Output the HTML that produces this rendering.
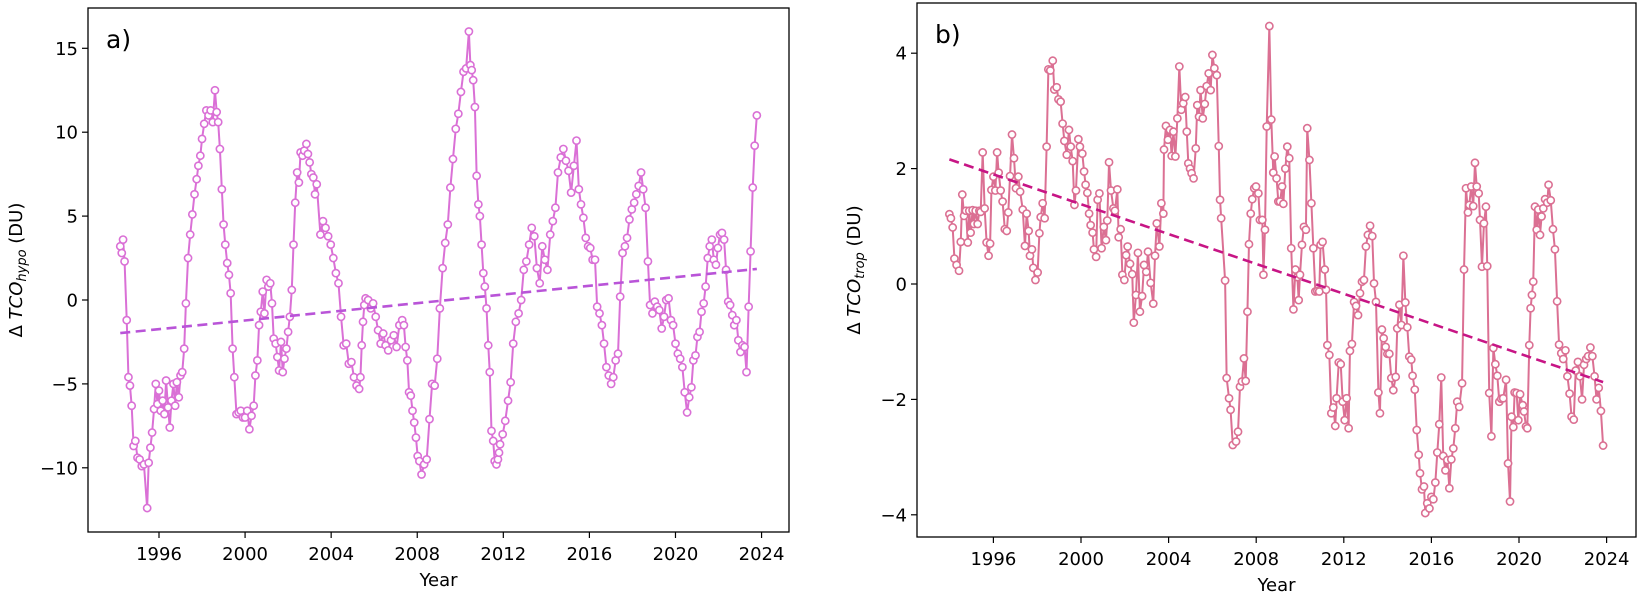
<!DOCTYPE html>
<html>
<head>
<meta charset="utf-8">
<style>
  html,body{margin:0;padding:0;background:#fff;}
  svg{display:block;font-family:"DejaVu Sans","Liberation Sans",sans-serif;}
</style>
</head>
<body>
<svg id="chart" width="1638" height="597" viewBox="0 0 1638 597" xmlns="http://www.w3.org/2000/svg">
  <g id="panelA"></g>
  <g id="panelB"></g>
</svg>
<script>
// ---------- shared tick data ----------
const xTickYears = [1996, 2000, 2004, 2008, 2012, 2016, 2020, 2024];
const yTicksA = [-10, -5, 0, 5, 10, 15];
const yTicksB = [-4, -2, 0, 2, 4];

// ---------- panel a: hypo series ----------
const yearsA = [
1994.20,1994.27,1994.33,1994.40,1994.50,1994.58,1994.65,1994.73,1994.82,1994.90,
1995.00,1995.10,1995.20,1995.30,1995.45,1995.52,1995.60,1995.68,1995.77,1995.85,
1995.93,1996.00,1996.08,1996.17,1996.25,1996.33,1996.42,1996.50,1996.58,1996.67,
1996.75,1996.83,1996.92,1997.00,1997.08,1997.17,1997.25,1997.35,1997.45,1997.55,
1997.65,1997.75,1997.83,1997.92,1998.00,1998.10,1998.20,1998.30,1998.40,1998.50,
1998.60,1998.68,1998.75,1998.83,1998.92,1999.00,1999.08,1999.17,1999.25,1999.33,
1999.42,1999.50,1999.60,1999.70,1999.80,1999.90,2000.00,2000.10,2000.20,2000.30,
2000.40,2000.48,2000.57,2000.65,2000.73,2000.82,2000.90,2001.00,2001.08,2001.17,
2001.25,2001.33,2001.42,2001.50,2001.58,2001.67,2001.75,2001.83,2001.92,2002.00,
2002.08,2002.17,2002.25,2002.33,2002.42,2002.50,2002.58,2002.67,2002.75,2002.85,
2002.92,2003.00,2003.08,2003.17,2003.25,2003.33,
2003.50,2003.62,2003.74,2003.86,2003.98,2004.10,2004.22,2004.34,2004.46,2004.58,
2004.70,2004.82,2004.94,2005.06,2005.18,2005.30,2005.36,2005.42,2005.48,2005.54,
2005.60,2005.72,2005.84,2005.95,2006.07,2006.18,2006.30,2006.42,2006.53,2006.65,
2006.78,2006.91,2007.04,2007.17,2007.30,2007.38,2007.46,2007.54,2007.62,2007.70,
2007.78,2007.86,2007.94,2008.02,2008.10,2008.20,
2008.32,2008.44,2008.57,2008.69,2008.81,2008.93,2009.05,2009.18,2009.30,2009.42,
2009.54,2009.66,2009.79,2009.91,2010.03,2010.15,2010.27,2010.40,
2010.47,2010.53,2010.60,2010.68,2010.76,2010.84,2010.91,2010.99,2011.07,2011.14,
2011.22,2011.30,2011.37,2011.45,2011.53,2011.60,2011.68,2011.75,2011.80,
2011.85,2011.97,2012.09,2012.22,2012.34,2012.46,2012.58,2012.71,2012.83,2012.95,
2013.07,2013.20,2013.32,2013.44,2013.56,2013.69,2013.81,2013.93,2014.05,2014.18,
2014.30,2014.42,2014.54,2014.67,2014.79,2014.91,2015.03,2015.15,2015.28,2015.40,
2015.51,2015.61,2015.72,2015.83,2015.94,2016.04,2016.15,2016.26,2016.36,2016.47,
2016.58,2016.68,2016.79,2016.90,2017.01,2017.11,2017.22,2017.33,2017.43,2017.54,
2017.65,2017.75,2017.86,2017.97,2018.08,2018.18,2018.29,2018.40,2018.50,2018.61,
2018.72,2018.82,2018.93,2019.04,2019.15,2019.25,2019.36,2019.47,2019.57,2019.68,
2019.79,2019.89,2020.00,2020.11,2020.22,2020.32,2020.43,2020.54,
2020.64,2020.74,2020.83,2020.93,2021.02,2021.12,2021.21,2021.31,2021.40,2021.50,
2021.59,2021.69,2021.78,2021.88,2021.97,2022.07,2022.16,2022.26,2022.35,2022.45,
2022.54,2022.64,2022.73,2022.83,2022.92,2023.02,2023.11,2023.21,2023.30,2023.40,
2023.49,2023.59,2023.68,2023.78
];
const valuesA = [
3.2,2.8,3.6,2.3,-1.2,-4.6,-5.1,-6.3,-8.7,-8.4,
-9.4,-9.5,-9.9,-9.8,-12.4,-9.7,-8.8,-7.9,-6.5,-5.0,
-6.2,-5.4,-6.6,-6.0,-6.8,-4.8,-6.4,-7.6,-6.0,-5.0,
-6.3,-4.9,-5.8,-4.5,-4.3,-2.9,-0.2,2.5,3.9,5.1,
6.3,7.2,8.0,8.6,9.6,10.5,11.3,11.0,11.3,10.6,
12.5,11.2,10.6,9.0,6.6,4.5,3.3,2.2,1.5,0.4,
-2.9,-4.6,-6.8,-6.7,-6.6,-7.0,-7.0,-6.6,-7.7,-6.9,
-6.3,-4.5,-3.6,-1.5,-0.7,0.5,-0.8,1.2,0.8,1.0,
-0.2,-2.3,-2.6,-3.4,-4.2,-2.5,-4.3,-3.5,-2.9,-1.9,
-1.0,0.6,3.3,5.8,7.6,7.0,8.8,8.6,8.9,9.3,
8.7,8.2,7.5,7.3,6.3,6.9,
3.9,4.7,4.3,3.8,3.3,2.5,1.6,1.0,-1.0,-2.7,
-2.6,-3.8,-3.7,-4.6,-5.1,-5.3,-4.6,-2.7,-1.3,-0.3,
0.1,0.0,-0.5,-0.2,-1.0,-1.8,-2.6,-2.0,-2.7,-3.0,
-2.4,-2.1,-2.8,-1.5,-1.2,-1.5,-2.8,-3.6,-5.5,-5.7,
-6.6,-7.3,-8.2,-9.3,-9.6,-10.4,
-9.8,-9.5,-7.1,-5.0,-5.1,-3.5,-0.5,1.9,3.4,4.5,
6.7,8.4,10.2,11.1,12.4,13.6,13.8,16.0,
14.0,13.7,13.1,11.5,7.4,5.7,5.0,3.3,1.6,0.8,
-0.5,-2.7,-4.3,-7.8,-8.4,-9.6,-9.8,-9.5,-9.1,
-8.6,-8.0,-7.2,-6.0,-4.9,-2.6,-1.3,-0.8,0.0,1.8,
2.3,3.3,4.3,3.8,1.9,1.0,3.2,2.4,1.8,3.9,
4.7,5.5,7.6,8.5,9.0,8.3,7.7,6.4,8.0,9.5,
6.6,5.7,4.9,3.7,3.2,3.1,2.4,2.4,-0.4,-0.8,
-1.5,-2.6,-4.0,-4.5,-5.0,-4.6,-3.6,-3.2,0.2,2.8,
3.2,3.7,4.8,5.4,5.8,6.3,6.8,7.6,6.6,5.5,
2.3,-0.3,-0.8,-0.1,-0.4,-0.6,-1.7,-1.0,0.0,0.1,
-1.2,-1.5,-2.6,-3.2,-3.5,-4.0,-5.5,-6.7,
-5.8,-5.2,-3.6,-3.3,-2.2,-1.9,-0.7,-0.2,0.8,2.5,
3.2,3.6,2.4,2.1,3.1,3.9,4.0,3.6,1.8,-0.1,
-0.3,-0.9,-1.5,-1.2,-2.4,-3.1,-2.7,-2.8,-4.3,-0.4,
2.9,6.7,9.2,11.0
];
const trendYearsA = [1994.2, 2023.78];
const trendValuesA = [-1.97, 1.85];

// ---------- panel b: trop series ----------
const yearsB = [
1993.99,1994.06,1994.14,1994.22,1994.32,1994.43,1994.51,1994.58,1994.66,1994.75,
1994.83,1994.90,1994.96,1995.05,1995.11,1995.19,1995.28,1995.36,1995.42,1995.51,
1995.60,1995.69,1995.78,1995.85,1995.91,1996.00,1996.09,1996.17,1996.24,1996.33,
1996.42,1996.52,1996.61,1996.68,1996.76,1996.85,1996.94,1997.03,1997.14,1997.22,
1997.34,1997.44,1997.52,1997.61,1997.67,1997.76,1997.82,1997.92,1998.02,1998.10,
1998.16,1998.25,1998.34,1998.43,1998.51,1998.60,1998.71,1998.78,1998.89,1998.97,
1999.07,1999.16,1999.24,1999.35,1999.45,1999.53,1999.62,1999.70,1999.77,1999.88,
1999.95,2000.06,2000.14,2000.21,2000.29,2000.37,2000.44,2000.53,2000.59,2000.69,
2000.76,2000.84,2000.94,2001.04,2001.14,2001.20,2001.28,2001.37,2001.48,2001.55,
2001.66,2001.72,2001.81,2001.89,2001.98,2002.06,2002.13,2002.24,2002.34,2002.41,
2002.51,2002.60,2002.69,2002.79,2002.88,2002.98,2003.06,2003.18,2003.30,2003.38,
2003.46,2003.58,2003.67,2003.76,2003.79,2003.88,2003.97,2004.06,2004.14,2004.22,
2004.31,2004.40,2004.49,2004.58,2004.67,2004.76,2004.83,2004.90,2004.98,2005.05,
2005.14,2005.24,2005.31,2005.39,2005.46,2005.56,2005.65,2005.74,2005.83,2005.92,
2006.00,2006.09,2006.20,2006.29,2006.35,2006.40,
2006.58,2006.65,2006.76,2006.83,2006.93,2007.08,2007.17,2007.26,2007.35,2007.44,
2007.52,2007.60,2007.67,2007.75,2007.82,2007.91,2007.99,2008.10,2008.17,2008.28,
2008.33,2008.40,2008.48,2008.60,2008.69,2008.78,2008.84,2008.93,2009.01,2009.09,
2009.18,2009.24,2009.33,2009.42,2009.51,2009.60,2009.70,2009.79,2009.88,2009.94,
2010.00,2010.09,2010.18,2010.27,2010.33,2010.43,2010.52,2010.61,2010.70,2010.79,
2010.88,2010.94,2011.03,2011.13,2011.19,2011.25,2011.34,2011.43,2011.52,2011.61,
2011.67,2011.77,2011.86,2011.95,2012.04,2012.13,2012.22,2012.28,2012.37,2012.47,
2012.56,2012.65,2012.74,2012.83,2012.92,2013.01,2013.10,2013.20,2013.30,2013.38,
2013.47,2013.58,2013.65,2013.74,2013.82,2013.91,2013.99,2014.08,2014.17,2014.26,
2014.37,2014.44,2014.54,2014.63,2014.72,2014.81,2014.90,2014.99,2015.08,2015.14,
2015.24,2015.33,2015.42,2015.48,2015.57,2015.66,2015.72,2015.81,2015.91,2016.00,
2016.09,2016.18,2016.27,2016.36,2016.45,2016.54,2016.64,2016.73,2016.82,2016.91,
2017.00,2017.09,2017.18,2017.27,2017.40,2017.49,2017.58,2017.67,2017.73,2017.82,
2017.91,2017.99,2018.07,2018.16,2018.22,2018.31,2018.40,2018.49,2018.55,2018.64,
2018.74,2018.83,2018.92,2019.01,2019.10,2019.19,2019.28,2019.41,2019.50,2019.59,
2019.66,2019.74,2019.80,2019.89,2019.97,2020.05,2020.17,2020.23,2020.32,2020.38,
2020.47,2020.53,2020.59,2020.65,2020.73,2020.81,2020.88,2020.96,2021.03,2021.11,
2021.19,2021.29,2021.35,
2021.45,2021.55,2021.64,2021.74,2021.83,2021.93,2022.02,2022.12,2022.21,2022.31,
2022.40,2022.50,2022.59,2022.69,2022.78,2022.88,2022.97,2023.07,2023.16,2023.26,
2023.35,2023.45,2023.54,2023.64,2023.74,2023.84
];
const valuesB = [
1.21,1.14,0.98,0.44,0.33,0.23,0.73,1.55,1.18,1.27,
0.72,1.27,0.89,1.28,1.04,1.27,1.04,1.27,1.25,2.28,
1.31,0.72,0.49,0.70,1.63,1.86,1.62,2.28,1.93,1.62,
1.43,0.95,0.92,1.24,1.87,2.59,2.18,1.66,1.86,1.60,
1.29,0.66,1.22,0.92,0.49,0.60,0.28,0.07,0.20,0.88,
1.16,1.40,1.14,2.38,3.72,3.70,3.87,3.37,3.41,3.20,
3.16,2.78,2.48,2.24,2.67,2.38,2.13,1.37,1.62,2.51,
2.38,2.26,1.95,1.72,1.58,1.22,1.02,0.89,0.60,0.47,
1.46,1.57,0.62,0.99,0.76,1.10,2.11,1.62,1.31,1.27,
1.64,0.81,0.95,0.16,0.07,0.50,0.65,0.35,0.17,-0.67,
-0.19,0.54,-0.48,-0.21,0.33,0.21,0.56,0.02,-0.34,0.49,
1.05,0.65,1.40,1.22,2.33,2.74,2.50,2.67,2.22,2.64,
2.21,2.87,3.77,3.02,3.13,3.24,2.64,2.09,2.00,1.92,
1.83,2.35,3.10,2.90,3.36,2.87,3.12,3.43,3.65,3.36,
3.97,3.74,3.62,2.39,1.46,1.14,
0.06,-1.63,-1.98,-2.18,-2.79,-2.73,-2.56,-1.78,-1.69,-1.29,
-1.68,-0.48,0.69,1.22,1.47,1.66,1.69,1.57,1.11,1.11,
0.16,0.94,2.73,4.47,2.85,1.93,2.21,1.83,1.43,1.43,
1.69,1.39,2.00,2.38,2.18,0.62,-0.44,0.25,0.12,-0.28,
0.16,0.68,0.99,0.94,2.70,2.15,1.40,0.62,-0.13,-0.12,
-0.13,0.68,0.73,0.25,-0.10,-1.06,-1.23,-2.24,-2.14,-2.46,
-1.98,-1.36,-1.39,-2.04,-2.36,-1.98,-2.50,-1.16,-1.04,-0.31,
-0.38,-0.54,-0.16,0.04,0.07,0.65,0.85,1.01,0.83,0.01,
-0.31,-1.88,-2.24,-0.79,-0.94,-1.09,-1.21,-1.21,-1.63,-1.84,
-1.61,-0.77,-0.36,-0.71,0.49,-0.32,-0.75,-1.26,-1.31,-1.59,
-1.83,-2.53,-2.96,-3.28,-3.56,-3.51,-3.97,-3.80,-3.89,-3.69,
-3.73,-3.44,-2.92,-2.43,-1.62,-2.98,-3.23,-3.05,-3.54,-3.04,
-2.85,-2.50,-2.04,-2.13,-1.72,0.25,1.66,1.24,1.37,1.69,
1.35,2.10,1.69,1.57,1.11,0.30,1.05,1.34,0.31,-1.89,
-2.64,-1.11,-1.39,-1.59,-2.04,-1.99,-1.98,-1.66,-3.11,-3.77,
-2.30,-2.48,-1.88,-1.89,-2.36,-1.91,-2.10,-2.21,-2.47,-2.50,
-1.06,-0.42,-0.19,0.04,1.34,0.94,1.29,0.85,1.17,1.31,
1.47,1.41,1.72,
1.45,0.95,0.60,-0.30,-1.05,-1.20,-1.30,-1.15,-1.60,-1.90,
-2.30,-2.35,-1.50,-1.35,-1.60,-2.00,-1.40,-1.30,-1.25,-1.10,
-1.25,-1.60,-2.00,-1.80,-2.20,-2.80
];
const trendYearsB = [1993.99, 2023.84];
const trendValuesB = [2.16, -1.70];

const SVGNS = 'http://www.w3.org/2000/svg';
function mk(tag, attrs, parent) {
  const el = document.createElementNS(SVGNS, tag);
  for (const k in attrs) el.setAttribute(k, attrs[k]);
  if (parent) parent.appendChild(el);
  return el;
}

function drawPanel(cfg) {
  const g = document.getElementById(cfg.gid);
  const xScale = yr => cfg.x1996 + (yr - 1996) * cfg.pxPerYear;
  const yScale = v => cfg.y0 - v * cfg.pxPerUnit;

  // series line
  let d = '';
  cfg.years.forEach((yr, i) => { d += (i ? 'L' : 'M') + xScale(yr).toFixed(2) + ' ' + yScale(cfg.values[i]).toFixed(2); });
  const line = mk('path', {d: d, fill: 'none', stroke: cfg.color, 'stroke-width': 2, 'stroke-linejoin': 'round'}, g);
  
  

  // markers
  const mg = mk('g', {}, g);
  
  
  cfg.years.forEach((yr, i) => {
    const c = mk('circle', {cx: xScale(yr).toFixed(2), cy: yScale(cfg.values[i]).toFixed(2), r: 3.6, fill: '#fff', stroke: cfg.color, 'stroke-width': 1.6}, mg);
    
    
  });

  // trend
  const tr = mk('line', {x1: xScale(cfg.trendYears[0]), y1: yScale(cfg.trendValues[0]), x2: xScale(cfg.trendYears[1]), y2: yScale(cfg.trendValues[1]), stroke: cfg.trendColor, 'stroke-width': 2.6, 'stroke-dasharray': '10 5.5'}, g);
  
  

  // frame
  const fr = mk('rect', {x: cfg.left, y: cfg.top, width: cfg.right - cfg.left, height: cfg.bottom - cfg.top, fill: 'none', stroke: '#000', 'stroke-width': 1.3}, g);
  
  

  // x ticks
  xTickYears.forEach(yr => {
    const x = xScale(yr);
    const t = mk('line', {x1: x, y1: cfg.bottom, x2: x, y2: cfg.bottom + 6, stroke: '#000', 'stroke-width': 1.2}, g);
    
    
    const lb = mk('text', {x: x, y: cfg.bottom + 28, 'text-anchor': 'middle', 'font-size': 18, fill: '#000'}, g);
    lb.textContent = yr;
    
    
  });
  // y ticks
  cfg.yTicks.forEach(v => {
    const y = yScale(v);
    const t = mk('line', {x1: cfg.left - 6, y1: y, x2: cfg.left, y2: y, stroke: '#000', 'stroke-width': 1.2}, g);
    
    
    const lb = mk('text', {x: cfg.left - 10, y: y + 6.5, 'text-anchor': 'end', 'font-size': 18, fill: '#000'}, g);
    lb.textContent = v < 0 ? '\u2212' + Math.abs(v) : String(v);
    
    
  });

  // x axis title
  const xt = mk('text', {x: (cfg.left + cfg.right) / 2, y: cfg.bottom + 54, 'text-anchor': 'middle', 'font-size': 18, fill: '#000'}, g);
  xt.textContent = 'Year';
  
  

  // y axis title
  const cy = (cfg.top + cfg.bottom) / 2;
  const yt = mk('text', {x: 0, y: 0, 'text-anchor': 'middle', 'font-size': 18, fill: '#000', transform: 'translate(' + cfg.ytitleX + ',' + cy + ') rotate(-90)'}, g);
  
  
  const s1 = mk('tspan', {}, yt); s1.textContent = '\u0394 ';
  const s2 = mk('tspan', {'font-style': 'italic'}, yt); s2.textContent = 'TCO';
  const s3 = mk('tspan', {'font-style': 'italic', 'font-size': 13, dy: 4}, yt); s3.textContent = cfg.sub;
  const s4 = mk('tspan', {dy: -4}, yt); s4.textContent = ' (DU)';

  // panel letter
  const pl = mk('text', {x: cfg.left + 18, y: cfg.top + 40, 'font-size': 25, fill: '#000'}, g);
  pl.textContent = cfg.letter;
  
  
}

drawPanel({
  gid: 'panelA', prefix: 'panel-a', letter: 'a)', sub: 'hypo',
  left: 88, right: 789, top: 8, bottom: 532,
  x1996: 159, pxPerYear: 21.52, y0: 300, pxPerUnit: 16.78,
  years: yearsA, values: valuesA, trendYears: trendYearsA, trendValues: trendValuesA,
  yTicks: yTicksA, color: '#da70d6', trendColor: '#b954d8', ytitleX: 22
});
drawPanel({
  gid: 'panelB', prefix: 'panel-b', letter: 'b)', sub: 'trop',
  left: 917, right: 1636, top: 3, bottom: 537,
  x1996: 993.4, pxPerYear: 21.9, y0: 284, pxPerUnit: 57.7,
  years: yearsB, values: valuesB, trendYears: trendYearsB, trendValues: trendValuesB,
  yTicks: yTicksB, color: '#db7093', trendColor: '#c71585', ytitleX: 860
});
</script>
</body>
</html>
